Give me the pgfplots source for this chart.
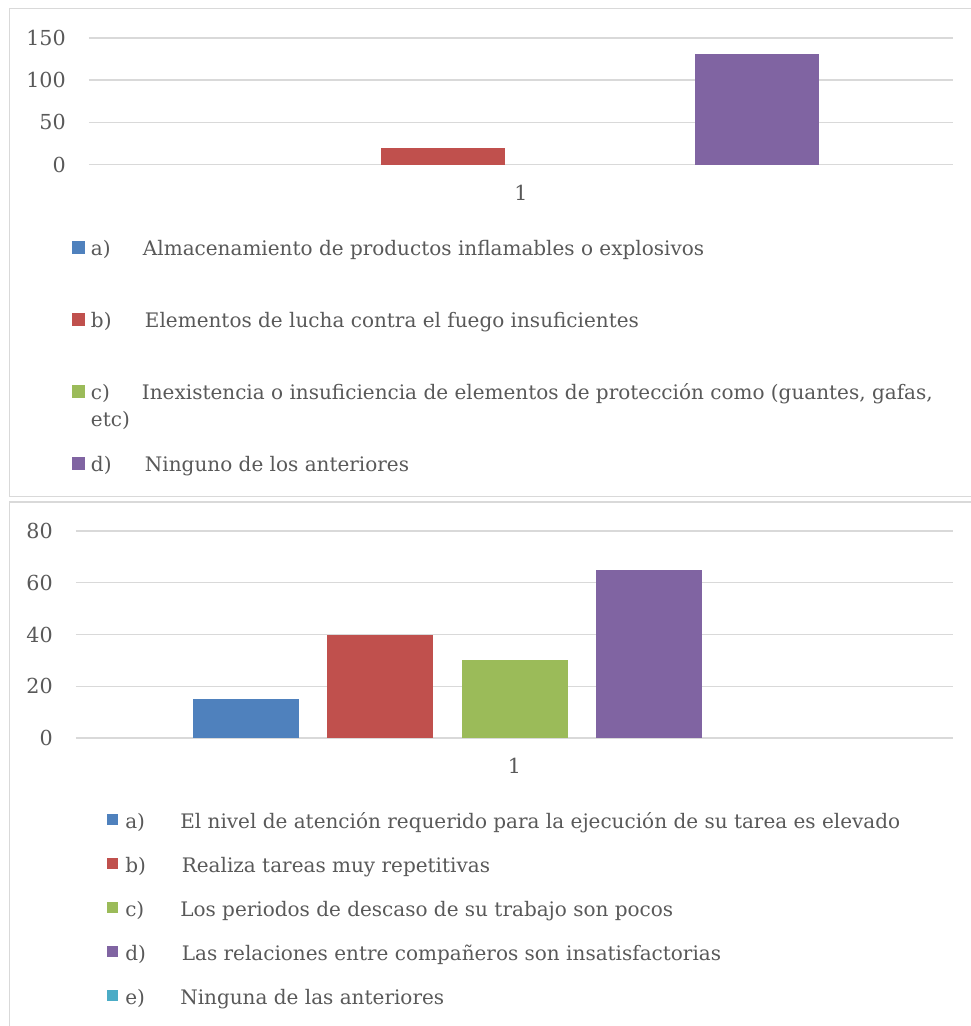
\documentclass[border=0pt]{standalone}
\usepackage{fontspec}
\setmainfont{DejaVu Serif}
\usepackage{pgfplots}
\pgfplotsset{compat=1.18}
\definecolor{cA}{HTML}{4F81BD}
\definecolor{cB}{HTML}{C0504D}
\definecolor{cC}{HTML}{9BBB59}
\definecolor{cD}{HTML}{8064A2}
\definecolor{cE}{HTML}{4BACC6}
\definecolor{txt}{HTML}{595959}
\definecolor{gridc}{HTML}{D9D9D9}
\newcommand{\tickfont}{\fontsize{15.5}{18}\selectfont}
\newcommand{\legfont}{\fontsize{15}{18}\selectfont}
\pgfplotsset{
  common/.style={
    scale only axis,
    xmin=0.5, xmax=1.5, ymin=0,
    xtick={1},
    axis line style={draw=none},
    major tick length=0pt,
    ymajorgrids, grid style={gridc, line width=1.1pt},
    tick label style={font=\tickfont, text=txt},
    yticklabel style={anchor=east, inner sep=0pt, xshift=-17.25pt},
    xticklabel style={anchor=north, inner sep=0pt, yshift=-15pt},
    /pgf/number format/assume math mode=true,
    legend cell align=left,
    clip=false,
  },
  zerobar/.style={fill opacity=0},
}
\begin{document}
\begin{tikzpicture}
\useasboundingbox (0,0) rectangle (728.25pt,-769.5pt);
\clip (0,0) rectangle (728.25pt,-769.5pt);
\fill[white] (0,0) rectangle (728.25pt,-769.5pt);
% panel borders
\draw[gridc, line width=1.1pt] (7.1pt,-6.4pt) rectangle (735pt,-372.4pt);
\draw[gridc, line width=1.1pt] (7.1pt,-376.5pt) rectangle (735pt,-780pt);

% ---------- top chart ----------
\begin{axis}[common,
  at={(66.75pt,-28.5pt)}, anchor=north west,
  width=648pt, height=94.875pt,
  ymax=150, ytick={0,50,100,150},
  ybar=24.75pt, bar width=93pt,
  legend style={at={(-0.0197,-0.589)}, anchor=north west, draw=none, fill=none,
    inner sep=0pt, outer sep=0pt, font=\legfont, text=txt,
    row sep=38pt, column sep=4.5pt,
    nodes={inner sep=0pt, text height=12pt, text depth=4pt, anchor=base west}},
  legend image code/.code={\fill[#1, draw=none, fill opacity=1] (0pt,0.5pt) rectangle (9.75pt,10.25pt);},
]
\addplot[fill=cA, draw=none, zerobar] coordinates {(1,0)};
\addplot[fill=cB, draw=none] coordinates {(1,20)};
\addplot[fill=cC, draw=none, zerobar] coordinates {(1,0)};
\addplot[fill=cD, draw=none] coordinates {(1,131)};
\legend{
  {\makebox[39pt][l]{a)}Almacenamiento de productos inflamables o explosivos},
  {\makebox[40.5pt][l]{b)}Elementos de lucha contra el fuego insuficientes},
  {\smash{\parbox[t]{640pt}{\baselineskip=20.25pt\makebox[38.25pt][l]{c)}Inexistencia o insuficiencia de elementos de protección como (guantes, gafas,\\etc)}}},
  {\makebox[40.5pt][l]{d)}Ninguno de los anteriores}
}
\end{axis}

% ---------- bottom chart ----------
\begin{axis}[common,
  at={(57pt,-398.25pt)}, anchor=north west,
  width=657.75pt, height=155.25pt,
  ymax=80, ytick={0,20,40,60,80},
  ybar=21.375pt, bar width=79.5pt,
  legend style={at={(0.0353,-0.362)}, anchor=north west, draw=none, fill=none,
    inner sep=0pt, outer sep=0pt, font=\legfont, text=txt,
    row sep=17pt, column sep=5.25pt,
    nodes={inner sep=0pt, text height=12pt, text depth=4pt, anchor=base west}},
  legend image code/.code={\fill[#1, draw=none, fill opacity=1] (0pt,3pt) rectangle (8.5pt,11.5pt);},
]
\addplot[fill=cA, draw=none] coordinates {(1,15)};
\addplot[fill=cB, draw=none] coordinates {(1,40)};
\addplot[fill=cC, draw=none] coordinates {(1,30)};
\addplot[fill=cD, draw=none] coordinates {(1,65)};
\addplot[fill=cE, draw=none, zerobar] coordinates {(1,0)};
\legend{
  {\makebox[41.25pt][l]{a)}El nivel de atención requerido para la ejecución de su tarea es elevado},
  {\makebox[42.4pt][l]{b)}Realiza tareas muy repetitivas},
  {\makebox[41.25pt][l]{c)}Los periodos de descaso de su trabajo son pocos},
  {\makebox[42.4pt][l]{d)}Las relaciones entre compañeros son insatisfactorias},
  {\makebox[41.25pt][l]{e)}Ninguna de las anteriores}
}
\end{axis}
\end{tikzpicture}
\end{document}
